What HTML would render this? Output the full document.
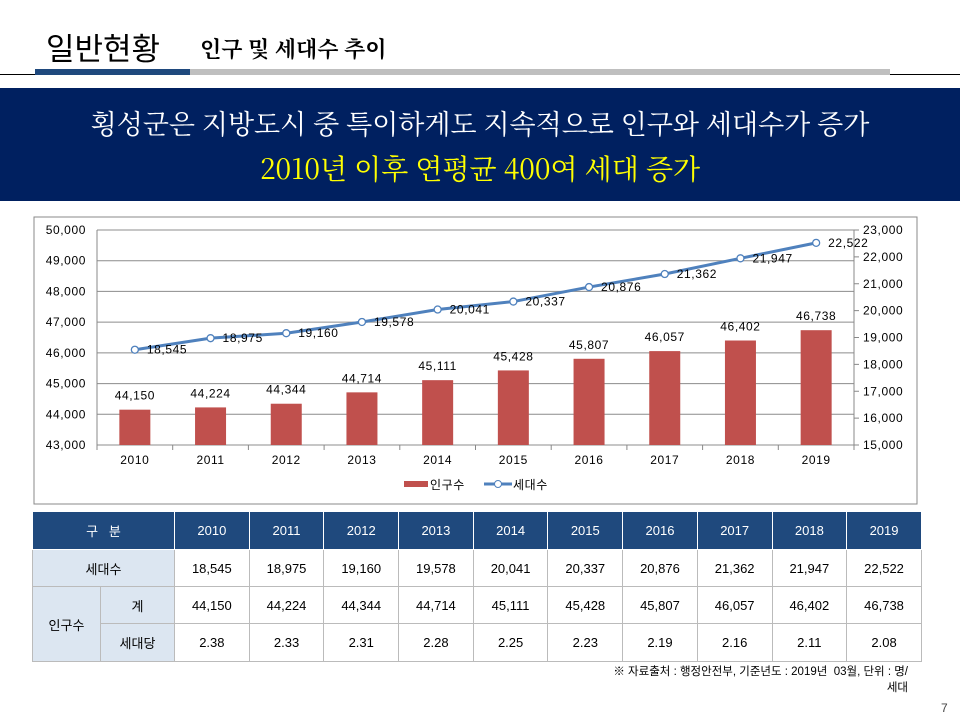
<!DOCTYPE html>
<html><head><meta charset="utf-8"><style>
body{margin:0;width:960px;height:720px;background:#fff;position:relative;overflow:hidden;font-family:"Liberation Sans","Noto Sans CJK KR",sans-serif}
.abs{position:absolute}
table{border-collapse:collapse;position:absolute;left:32px;top:511px;font-size:13px;text-align:center}
td{border:1px solid #bbb;padding:0}
tr.h td{background:#1f497d;color:#fff;border-color:#fff;height:37px}
td.lab{background:#dce6f1}
</style></head><body>
<div class="abs" style="left:46px;top:24px;font-size:31px;font-family:'Noto Sans CJK KR',sans-serif">일반현황</div>
<div class="abs" style="left:200px;top:33px;font-size:22px;font-weight:bold;font-family:'Noto Serif CJK SC','Noto Sans CJK KR',serif">인구 및 세대수 추이</div>
<div class="abs" style="left:0;top:74px;width:960px;height:1px;background:#000"></div>
<div class="abs" style="left:35px;top:69px;width:155px;height:6px;background:#1f497d"></div>
<div class="abs" style="left:190px;top:69px;width:700px;height:6px;background:#bfbfbf"></div>
<div class="abs" style="left:0;top:88px;width:960px;height:113px;background:#002060"></div>
<div class="abs" style="left:0;top:103px;width:960px;text-align:center;color:#fff;font-size:27px;font-family:'Noto Serif CJK SC','Noto Sans CJK KR',serif">횡성군은 지방도시 중 특이하게도 지속적으로 인구와 세대수가 증가</div>
<div class="abs" style="left:0;top:148px;width:960px;text-align:center;color:#ffff00;font-size:28px;font-family:'Noto Serif CJK SC','Noto Sans CJK KR',serif">2010년 이후 연평균 400여 세대 증가</div>

<svg class="abs" style="left:0;top:0" width="960" height="720">
<rect x="34" y="217" width="883" height="287" fill="#fff" stroke="#888"/>
<g id="g"></g>
</svg>
<script>
const years=["2010","2011","2012","2013","2014","2015","2016","2017","2018","2019"];
const population=[44150,44224,44344,44714,45111,45428,45807,46057,46402,46738];
const households=[18545,18975,19160,19578,20041,20337,20876,21362,21947,22522];
const leftTicks=[43000,44000,45000,46000,47000,48000,49000,50000];
const rightTicks=[15000,16000,17000,18000,19000,20000,21000,22000,23000];
const L=97,R=854,T=230,B=445;
const yl=v=>B-(v-43000)/7000*(B-T);
const yr=v=>B-(v-15000)/8000*(B-T);
const step=(R-L)/years.length;
const xc=i=>L+step*(i+0.5);
const fmt=v=>v.toLocaleString('en-US');
const g=document.getElementById('g');const NS='http://www.w3.org/2000/svg';
function mk(t,a,txt){const e=document.createElementNS(NS,t);for(const k in a)e.setAttribute(k,a[k]);if(txt!=null)e.textContent=txt;g.appendChild(e);return e;}
const tf='font-family:"Liberation Sans","Noto Sans CJK KR",sans-serif;font-size:12px;letter-spacing:0.6px';
leftTicks.forEach(v=>{const y=yl(v);
const l=mk('line',{x1:L,x2:R,y1:y,y2:y,stroke:'#8c8c8c'});


const t=mk('text',{x:L-11,y:y+4,'text-anchor':'end',style:tf},fmt(v));

});
mk('line',{x1:L,x2:L,y1:T,y2:B,stroke:'#888'});
mk('line',{x1:R,x2:R,y1:T,y2:B,stroke:'#888'});
rightTicks.forEach(v=>{const y=yr(v);mk('line',{x1:R,x2:R+5,y1:y,y2:y,stroke:'#888'});
const t=mk('text',{x:R+9,y:y+4,style:tf},fmt(v));

});
for(let i=0;i<=years.length;i++){mk('line',{x1:L+step*i,x2:L+step*i,y1:B,y2:B+5,stroke:'#888'});}
years.forEach((y,i)=>{const t=mk('text',{x:xc(i),y:B+19,'text-anchor':'middle',style:tf},y);

});
population.forEach((v,i)=>{const y=yl(v);
const b=mk('rect',{x:xc(i)-15.5,y:y,width:31,height:B-y,fill:'#c0504d'});


const t=mk('text',{x:xc(i),y:y-10,'text-anchor':'middle',style:tf},fmt(v));

});
const pl=mk('polyline',{points:households.map((v,i)=>xc(i)+','+yr(v)).join(' '),fill:'none',stroke:'#4f81bd','stroke-width':3});


households.forEach((v,i)=>{const y=yr(v);
const c=mk('circle',{cx:xc(i),cy:y,r:3.5,fill:'#fff',stroke:'#4f81bd','stroke-width':1.3});


const t=mk('text',{x:xc(i)+12,y:y+4,style:tf},fmt(v));

});
const lr=mk('rect',{x:404,y:481,width:24,height:6,fill:'#c0504d'});


const lt=mk('text',{x:430,y:489,style:tf},'인구수');


mk('line',{x1:484,x2:512,y1:484,y2:484,stroke:'#4f81bd','stroke-width':3});
mk('circle',{cx:498,cy:484,r:3.5,fill:'#fff',stroke:'#4f81bd'});
const lt2=mk('text',{x:513,y:489,style:tf},'세대수');


</script>

<table>
<colgroup><col style="width:68px"><col style="width:74px"><col span="10" style="width:74.7px"></colgroup>
<tr class="h"><td colspan="2">구 &nbsp;&nbsp;분</td><td>2010</td><td>2011</td><td>2012</td><td>2013</td><td>2014</td><td>2015</td><td>2016</td><td>2017</td><td>2018</td><td>2019</td></tr>
<tr style="height:37px"><td colspan="2" class="lab">세대수</td><td>18,545</td><td>18,975</td><td>19,160</td><td>19,578</td><td>20,041</td><td>20,337</td><td>20,876</td><td>21,362</td><td>21,947</td><td>22,522</td></tr>
<tr style="height:37px"><td rowspan="2" class="lab">인구수</td><td class="lab">계</td><td>44,150</td><td>44,224</td><td>44,344</td><td>44,714</td><td>45,111</td><td>45,428</td><td>45,807</td><td>46,057</td><td>46,402</td><td>46,738</td></tr>
<tr style="height:38px"><td class="lab">세대당</td><td>2.38</td><td>2.33</td><td>2.31</td><td>2.28</td><td>2.25</td><td>2.23</td><td>2.19</td><td>2.16</td><td>2.11</td><td>2.08</td></tr>
</table>
<div class="abs" style="right:52px;top:664px;font-size:11.5px;text-align:right;line-height:16px">※ 자료출처 : 행정안전부, 기준년도 : 2019년 &nbsp;03월, 단위 : 명/<br>세대</div>
<div class="abs" style="left:941px;top:701px;font-size:12px;color:#444">7</div>
</body></html>
